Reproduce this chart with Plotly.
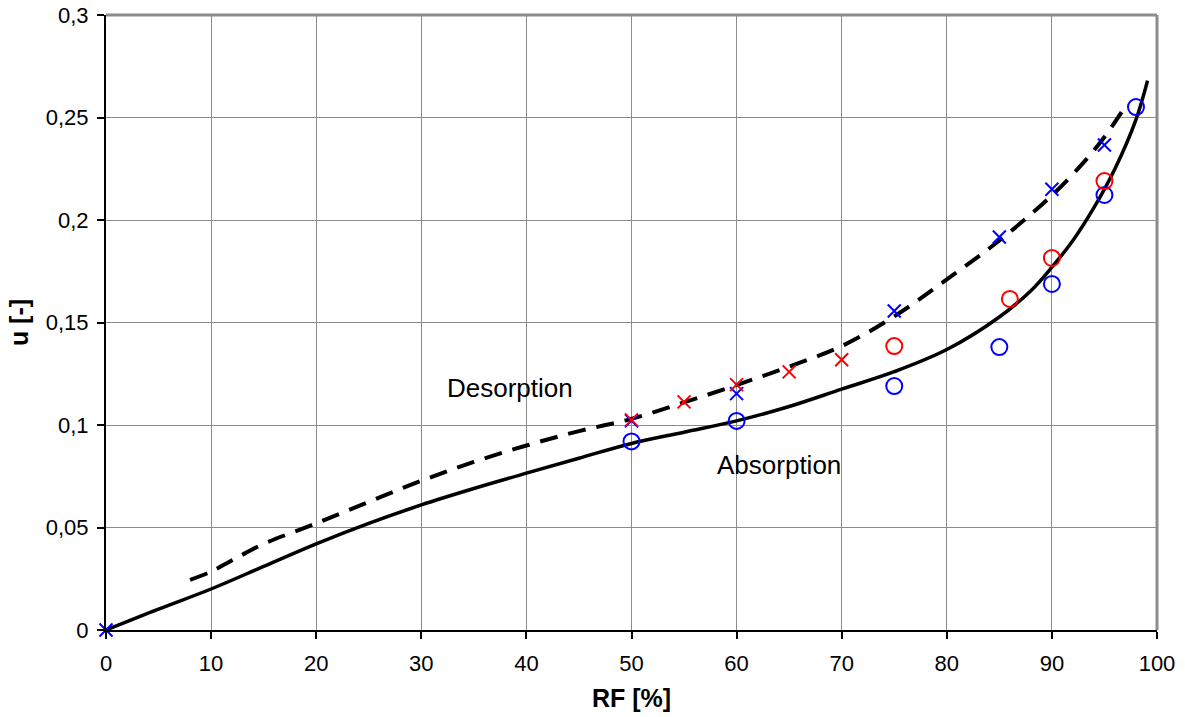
import plotly.graph_objects as go

# Absorption model curve (solid)
abs_x = [0, 5, 10, 15, 20, 25, 30, 35, 40, 45, 50, 55, 60, 65, 70, 75, 80, 85, 88, 90, 92, 94, 96, 98, 99.1]
abs_y = [0, 0.0102, 0.020, 0.031, 0.042, 0.052, 0.061, 0.069, 0.0765, 0.0838, 0.091, 0.0965, 0.102, 0.109,
         0.1175, 0.126, 0.1368, 0.1527, 0.1655, 0.177, 0.19, 0.206, 0.225, 0.249, 0.268]

# Desorption model curve (dashed)
des_x = [8, 10, 12, 15, 20, 25, 30, 35, 40, 45, 50, 55, 60, 65, 70, 75, 80, 85, 90, 93, 95, 96.8]
des_y = [0.0245, 0.0285, 0.034, 0.042, 0.052, 0.0625, 0.0728, 0.082, 0.090, 0.097, 0.103, 0.111, 0.1195,
         0.1285, 0.1385, 0.153, 0.171, 0.19, 0.212, 0.228, 0.2405, 0.254]

# Measured points
blue_circ_x = [50, 60, 75, 85, 90, 95, 98]
blue_circ_y = [0.092, 0.102, 0.119, 0.138, 0.1688, 0.2122, 0.2551]
red_circ_x = [75, 86, 90, 95]
red_circ_y = [0.1385, 0.1615, 0.1815, 0.219]
blue_x_x = [0, 50, 60, 75, 85, 90, 95]
blue_x_y = [0, 0.102, 0.1153, 0.1556, 0.1917, 0.215, 0.2366]
red_x_x = [50, 55, 60, 65, 70]
red_x_y = [0.1025, 0.1113, 0.1197, 0.1259, 0.1318]

x_ticks = list(range(0, 101, 10))
y_ticks = [0, 0.05, 0.1, 0.15, 0.2, 0.25, 0.3]

fig = go.Figure()
fig.add_trace(go.Scatter(x=abs_x, y=abs_y, mode="lines", line=dict(color="black", width=3.5, shape="spline", smoothing=1.0)))
fig.add_trace(go.Scatter(x=des_x, y=des_y, mode="lines", line=dict(color="black", width=4, dash="18px,11px", shape="spline", smoothing=1.0)))
fig.add_trace(go.Scatter(x=blue_circ_x, y=blue_circ_y, mode="markers", cliponaxis=False,
                         marker=dict(symbol="circle-open", size=16, color="blue", line=dict(width=2))))
fig.add_trace(go.Scatter(x=red_circ_x, y=red_circ_y, mode="markers", cliponaxis=False,
                         marker=dict(symbol="circle-open", size=16, color="red", line=dict(width=2))))
fig.add_trace(go.Scatter(x=blue_x_x, y=blue_x_y, mode="markers", cliponaxis=False,
                         marker=dict(symbol="x-thin-open", size=13, color="blue", line=dict(width=2, color="blue"))))
fig.add_trace(go.Scatter(x=red_x_x, y=red_x_y, mode="markers", cliponaxis=False,
                         marker=dict(symbol="x-thin-open", size=13, color="red", line=dict(width=2, color="red"))))

font_family = "Liberation Sans, Arial, sans-serif"
fig.add_annotation(x=38.4, y=0.118, text="Desorption", showarrow=False, font=dict(size=26, color="black", family=font_family))
fig.add_annotation(x=64.0, y=0.0805, text="Absorption", showarrow=False, font=dict(size=26, color="black", family=font_family))

# gray top and right frame
fig.add_shape(type="line", xref="paper", yref="paper", x0=0, x1=1, y0=1, y1=1, line=dict(color="#8c8c8c", width=3), layer="below")
fig.add_shape(type="line", xref="paper", yref="paper", x0=1, x1=1, y0=0, y1=1, line=dict(color="#8c8c8c", width=3), layer="below")

fig.update_layout(
    width=1185, height=717,
    margin=dict(l=106, r=28, t=15, b=87, autoexpand=False),
    paper_bgcolor="white", plot_bgcolor="white",
    showlegend=False,
    separators=", ",
    font=dict(family=font_family, color="black", size=22),
)
fig.update_xaxes(range=[0, 100], tickvals=x_ticks, ticks="outside", ticklen=7, tickwidth=2, tickcolor="black",
                 showline=True, linecolor="black", linewidth=2, showgrid=True, gridcolor="#8c8c8c", gridwidth=1.3,
                 zeroline=False, tickfont=dict(size=22), automargin=False, ticklabelstandoff=6,
                 title=dict(text="<b>RF [%]</b>", font=dict(size=25), standoff=14))
fig.update_yaxes(range=[0, 0.3], tickvals=y_ticks, ticks="outside", ticklen=7, tickwidth=2, tickcolor="black",
                 showline=True, linecolor="black", linewidth=2, showgrid=True, gridcolor="#8c8c8c", gridwidth=1.3,
                 zeroline=False, tickfont=dict(size=22), tickformat=",.2~f", automargin=False, ticklabelstandoff=4,
                 title=dict(text="<b>u [-]</b>", font=dict(size=25), standoff=10))

fig.write_html("out.html")
